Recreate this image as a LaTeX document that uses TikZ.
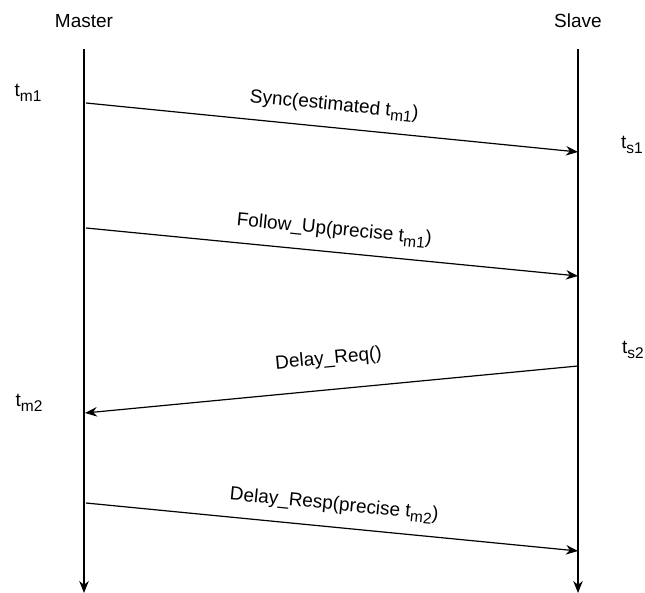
\documentclass[tikz,border=0pt]{standalone}
\usepackage{fontspec}
\setmainfont{Liberation Sans}
\usetikzlibrary{arrows.meta}
% lowered index set a little smaller than the running text
\newcommand{\lowidx}[1]{{\fontsize{15.5}{18}\selectfont\raisebox{-4.5pt}{#1}}}
\begin{document}
\begin{tikzpicture}[x=1pt,y=-1pt,
  lifeline/.style={line width=1.2pt,-{Stealth[length=12pt,width=9.5pt]}},
  msg/.style={line width=1.2pt,-{Stealth[length=12pt,width=9.5pt]}},
  lbl/.style={font=\fontsize{19}{23}\selectfont,inner sep=0pt},
  msglbl/.style={lbl,sloped,above=12pt}]
\useasboundingbox (0,0) rectangle (645,593);
% participants
\node[lbl] (master) at (84,21) {Master};
\node[lbl] (slave) at (578,21) {Slave};
\coordinate (mtop) at (84,49);
\coordinate (mbot) at (84,593);
\coordinate (stop) at (578,49);
\coordinate (sbot) at (578,593);
\draw[lifeline] (mtop) -- (mbot);
\draw[lifeline] (stop) -- (sbot);
% message end points on the lifelines
\coordinate (a1) at (86,103);  \coordinate (b1) at (578,152);
\coordinate (a2) at (86,228);  \coordinate (b2) at (578,276);
\coordinate (b3) at (578,366); \coordinate (a3) at (85,413);
\coordinate (a4) at (86,503);  \coordinate (b4) at (578,551);
% messages
\draw[msg] (a1) -- node[msglbl] {Sync(estimated t\lowidx{m1})} (b1);
\draw[msg] (a2) -- node[msglbl] {Follow\_Up(precise t\lowidx{m1})} (b2);
\draw[msg] (b3) -- node[msglbl,above=9pt] {Delay\_Req()} (a3);
\draw[msg] (a4) -- node[msglbl] {Delay\_Resp(precise t\lowidx{m2})} (b4);
% timestamps
\node[lbl] (tm1) at (28,93) {t\lowidx{m1}};
\node[lbl] (ts1) at (632,145) {t\lowidx{s1}};
\node[lbl] (ts2) at (633,350) {t\lowidx{s2}};
\node[lbl] (tm2) at (29,403) {t\lowidx{m2}};
\end{tikzpicture}
\end{document}
